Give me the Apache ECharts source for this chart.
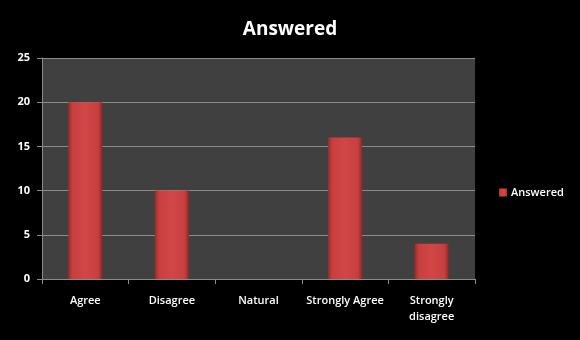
<!DOCTYPE html>
<html><head><meta charset="utf-8">
<script src="https://cdn.jsdelivr.net/npm/echarts@6/dist/echarts.min.js"></script>
<style>html,body{margin:0;padding:0;background:#000;}#c{width:580px;height:340px;}</style>
</head><body><div id="c"></div>
<script>
const categories = ['Agree', 'Disagree', 'Natural', 'Strongly Agree', 'Strongly\ndisagree'];
const answered = [20, 10, 0, 16, 4];
const yTicks = { min: 0, max: 25, interval: 5 };

const chart = echarts.init(document.getElementById('c'));
const font = 'Open Sans';
chart.setOption({
  backgroundColor: '#000000',
  animation: false,
  title: {
    text: 'Answered', left: 'center', top: 15,
    textStyle: { color: '#ffffff', fontFamily: font, fontWeight: 'bold', fontSize: 19 }
  },
  legend: {
    data: ['Answered'], left: 494, top: 182, orient: 'vertical',
    itemWidth: 8, itemHeight: 8, itemGap: 4,
    icon: 'rect',
    textStyle: { color: '#ffffff', fontFamily: font, fontSize: 11, fontWeight: 600, padding: [0, 0, 0, -1] }
  },
  grid: { left: 42, right: 105, top: 58, bottom: 61, show: true, backgroundColor: '#404040', borderWidth: 0 },
  xAxis: {
    type: 'category', data: categories,
    axisLine: { lineStyle: { color: '#8c8c8c', width: 1 } },
    axisTick: { show: true, length: 5, lineStyle: { color: '#8c8c8c' } },
    axisLabel: { color: '#ffffff', fontFamily: font, fontSize: 11, fontWeight: 600, margin: 14, lineHeight: 16, interval: 0 },
    splitLine: { show: false }
  },
  yAxis: {
    type: 'value', min: yTicks.min, max: yTicks.max, interval: yTicks.interval,
    axisLine: { show: true, lineStyle: { color: '#8c8c8c' } },
    axisTick: { show: true, length: 5, lineStyle: { color: '#8c8c8c' } },
    axisLabel: { color: '#ffffff', fontFamily: font, fontSize: 11, fontWeight: 'bold', margin: 12 },
    splitLine: { lineStyle: { color: '#8c8c8c', width: 1 } }
  },
  series: [{
    name: 'Answered', type: 'bar', data: answered, barWidth: 34,
    itemStyle: {
      color: new echarts.graphic.LinearGradient(0, 0, 1, 0, [
        { offset: 0, color: '#9a2b2b' },
        { offset: 0.12, color: '#c63f3f' },
        { offset: 0.5, color: '#d24646' },
        { offset: 0.88, color: '#c63f3f' },
        { offset: 1, color: '#8e2626' }
      ]),
      borderWidth: 0
    }
  }]
});
</script></body></html>
